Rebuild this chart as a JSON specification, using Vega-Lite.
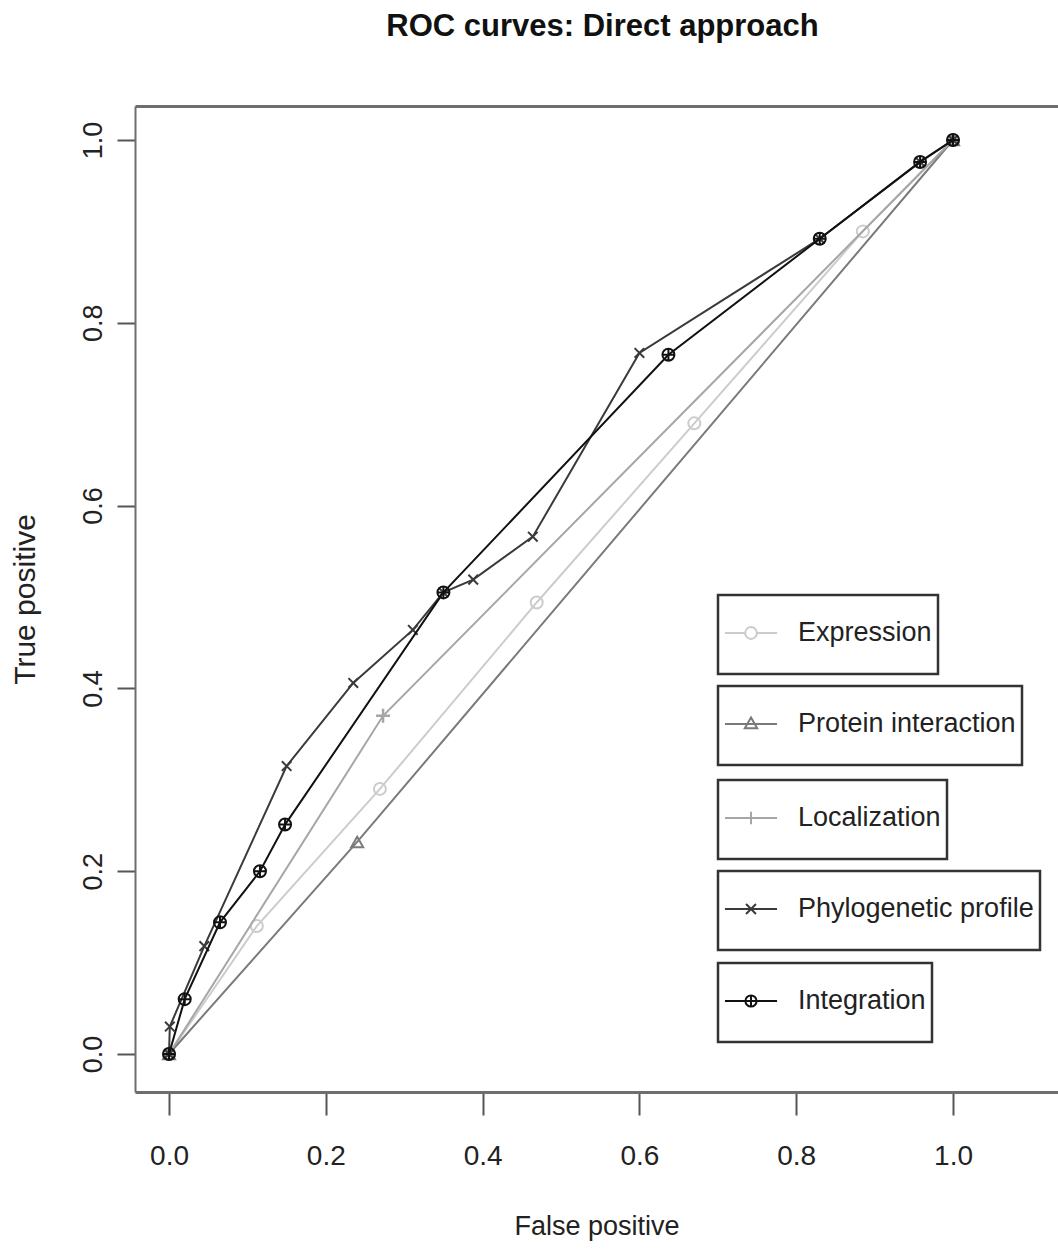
{
  "$schema": "https://vega.github.io/schema/vega-lite/v6.json",
  "autosize": "none",
  "width": 923,
  "height": 986,
  "padding": {"left": 135, "top": 106, "right": 0, "bottom": 157},
  "background": "white",
  "title": {"text": "ROC curves: Direct approach", "font": "Liberation Sans", "fontSize": 31, "fontWeight": "bold", "color": "#111111", "anchor": "middle", "offset": 63, "dx": 6},
  "config": {
    "view": {"stroke": null},
    "legend": {"orient": "none", "padding": 6, "strokeColor": "#333333", "fillColor": "white", "labelFont": "Liberation Sans", "labelFontSize": 27, "labelColor": "#222222", "labelLimit": 500, "symbolStrokeWidth": 2, "symbolSize": 3844, "symbolOffset": -5, "labelOffset": 15, "symbolFillColor": "transparent"}
  },
  "data": {"values": [
    {"series": "Expression", "fp": 0, "tp": 0},
    {"series": "Expression", "fp": 0.112, "tp": 0.14},
    {"series": "Expression", "fp": 0.269, "tp": 0.29},
    {"series": "Expression", "fp": 0.469, "tp": 0.494},
    {"series": "Expression", "fp": 0.67, "tp": 0.69},
    {"series": "Expression", "fp": 0.885, "tp": 0.9},
    {"series": "Expression", "fp": 1, "tp": 1},
    {"series": "Protein interaction", "fp": 0, "tp": 0},
    {"series": "Protein interaction", "fp": 0.24, "tp": 0.232},
    {"series": "Protein interaction", "fp": 1, "tp": 1},
    {"series": "Localization", "fp": 0, "tp": 0},
    {"series": "Localization", "fp": 0.273, "tp": 0.37},
    {"series": "Localization", "fp": 1, "tp": 1},
    {"series": "Phylogenetic profile", "fp": 0, "tp": 0},
    {"series": "Phylogenetic profile", "fp": 0.001, "tp": 0.03},
    {"series": "Phylogenetic profile", "fp": 0.045, "tp": 0.118},
    {"series": "Phylogenetic profile", "fp": 0.15, "tp": 0.315},
    {"series": "Phylogenetic profile", "fp": 0.235, "tp": 0.406},
    {"series": "Phylogenetic profile", "fp": 0.311, "tp": 0.464},
    {"series": "Phylogenetic profile", "fp": 0.35, "tp": 0.505},
    {"series": "Phylogenetic profile", "fp": 0.388, "tp": 0.519},
    {"series": "Phylogenetic profile", "fp": 0.464, "tp": 0.566},
    {"series": "Phylogenetic profile", "fp": 0.6, "tp": 0.767},
    {"series": "Phylogenetic profile", "fp": 0.83, "tp": 0.892},
    {"series": "Phylogenetic profile", "fp": 0.958, "tp": 0.976},
    {"series": "Phylogenetic profile", "fp": 1, "tp": 1},
    {"series": "Integration", "fp": 0, "tp": 0},
    {"series": "Integration", "fp": 0.02, "tp": 0.06},
    {"series": "Integration", "fp": 0.065, "tp": 0.144},
    {"series": "Integration", "fp": 0.116, "tp": 0.2},
    {"series": "Integration", "fp": 0.148, "tp": 0.251},
    {"series": "Integration", "fp": 0.35, "tp": 0.505},
    {"series": "Integration", "fp": 0.637, "tp": 0.765},
    {"series": "Integration", "fp": 0.83, "tp": 0.892},
    {"series": "Integration", "fp": 0.958, "tp": 0.976},
    {"series": "Integration", "fp": 1, "tp": 1}
  ]},
  "encoding": {
    "y": {"field": "tp", "type": "quantitative", "scale": {"domain": [-0.0416, 1.0372], "nice": false, "zero": false},
      "axis": {"orient": "left", "values": [0, 0.2, 0.4, 0.6, 0.8, 1], "format": ".1f", "grid": false, "domainColor": "#6e6e6e", "domainWidth": 2, "tickColor": "#555555", "tickWidth": 2, "tickSize": 18, "labelAngle": 270, "labelAlign": "center", "labelBaseline": "bottom", "labelPadding": 10, "labelFont": "Liberation Sans", "labelFontSize": 27, "labelColor": "#222222", "title": "True positive", "titleFont": "Liberation Sans", "titleFontSize": 30, "titleFontWeight": "normal", "titleColor": "#222222", "titlePadding": 39}},
    "x": {"field": "fp", "type": "quantitative", "scale": {"domain": [-0.0434, 1.1339], "nice": false, "zero": false}, "axis": null}
  },
  "layer": [
    {"mark": {"type": "point", "opacity": 0},
     "encoding": {"x": {"field": "fp", "type": "quantitative", "scale": {"domain": [-0.0434, 1.1339], "nice": false, "zero": false},
       "axis": {"orient": "bottom", "values": [0, 0.2, 0.4, 0.6, 0.8, 1], "format": ".1f", "grid": false, "domainColor": "#6e6e6e", "domainWidth": 3, "tickColor": "#555555", "tickWidth": 2, "tickSize": 23, "labelPadding": 27, "labelFont": "Liberation Sans", "labelFontSize": 28, "labelColor": "#222222", "title": "False positive", "titleFont": "Liberation Sans", "titleFontSize": 27, "titleFontWeight": "normal", "titleColor": "#222222", "titlePadding": 43}}}},
    {"mark": {"type": "point", "opacity": 0},
     "encoding": {"x": {"field": "fp", "type": "quantitative", "scale": {"domain": [-0.0434, 1.1339], "nice": false, "zero": false},
       "axis": {"orient": "top", "labels": false, "ticks": false, "title": null, "grid": false, "domainColor": "#6e6e6e", "domainWidth": 3}}}},
    {"transform": [{"filter": "datum.series === 'Expression'"}],
     "layer": [
       {"mark": {"type": "line", "strokeWidth": 2},
        "encoding": {"color": {"field": "series", "type": "nominal", "scale": {"range": ["#cccccc"]},
          "legend": {"title": null, "legendX": 583, "legendY": 489, "symbolStrokeColor": "#cccccc", "symbolType": "M0,-1M0,1M-0.84,0L-0.19,0M0.19,0L0.84,0M-0.19,0A0.19,0.19 0 1,1 0.19,0A0.19,0.19 0 1,1 -0.19,0", "encode": {"legend": {"update": {"strokeWidth": {"value": 2.5}}}}}}}},
       {"mark": {"type": "point", "shape": "circle", "size": 144, "strokeWidth": 2, "filled": false, "opacity": 1},
        "encoding": {"color": {"field": "series", "type": "nominal", "legend": null}}}
     ]},
    {"transform": [{"filter": "datum.series === 'Protein interaction'"}],
     "layer": [
       {"mark": {"type": "line", "strokeWidth": 2},
        "encoding": {"color": {"field": "series", "type": "nominal", "scale": {"range": ["#7a7a7a"]},
          "legend": {"title": null, "legendX": 583, "legendY": 580, "symbolStrokeColor": "#7a7a7a", "symbolType": "M0,-1M0,1M-0.84,0L0.84,0M0,-0.21L0.2,0.14L-0.2,0.14Z", "encode": {"legend": {"update": {"strokeWidth": {"value": 2.5}}}}}}}},
       {"mark": {"type": "point", "shape": "triangle-up", "size": 144, "strokeWidth": 2, "filled": false, "opacity": 1},
        "encoding": {"color": {"field": "series", "type": "nominal", "legend": null}}}
     ]},
    {"transform": [{"filter": "datum.series === 'Localization'"}],
     "layer": [
       {"mark": {"type": "line", "strokeWidth": 2},
        "encoding": {"color": {"field": "series", "type": "nominal", "scale": {"range": ["#a6a6a6"]},
          "legend": {"title": null, "legendX": 583, "legendY": 674, "symbolStrokeColor": "#a6a6a6", "symbolType": "M0,-1M0,1M-0.84,0L0.84,0M0,-0.2L0,0.2", "encode": {"legend": {"update": {"strokeWidth": {"value": 2.5}}}}}}}},
       {"mark": {"type": "point", "shape": "M-1,0L1,0M0,-1L0,1", "size": 196, "strokeWidth": 2.5, "filled": false, "opacity": 1},
        "encoding": {"color": {"field": "series", "type": "nominal", "legend": null}}}
     ]},
    {"transform": [{"filter": "datum.series === 'Phylogenetic profile'"}],
     "layer": [
       {"mark": {"type": "line", "strokeWidth": 2},
        "encoding": {"color": {"field": "series", "type": "nominal", "scale": {"range": ["#3a3a3a"]},
          "legend": {"title": null, "legendX": 583, "legendY": 765, "symbolStrokeColor": "#1a1a1a", "symbolType": "M0,-1M0,1M-0.84,0L0.84,0M-0.16,-0.16L0.16,0.16M-0.16,0.16L0.16,-0.16", "encode": {"legend": {"update": {"strokeWidth": {"value": 2.5}}}}}}}},
       {"mark": {"type": "point", "shape": "M-0.8,-0.8L0.8,0.8M-0.8,0.8L0.8,-0.8", "size": 144, "strokeWidth": 2, "filled": false, "opacity": 1},
        "encoding": {"color": {"field": "series", "type": "nominal", "legend": null}}}
     ]},
    {"transform": [{"filter": "datum.series === 'Integration'"}],
     "layer": [
       {"mark": {"type": "line", "strokeWidth": 2},
        "encoding": {"color": {"field": "series", "type": "nominal", "scale": {"range": ["#111111"]},
          "legend": {"title": null, "legendX": 583, "legendY": 857, "symbolStrokeColor": "#444444", "symbolType": "M0,-1M0,1M-0.84,0L0.84,0M-0.18,0A0.18,0.18 0 1,1 0.18,0A0.18,0.18 0 1,1 -0.18,0M0,-0.18L0,0.18", "encode": {"legend": {"update": {"strokeWidth": {"value": 2.5}}}}}}}},
       {"mark": {"type": "point", "shape": "M-1,0A1,1 0 1,1 1,0A1,1 0 1,1 -1,0M0,-1L0,1M-1,0L1,0", "size": 144, "strokeWidth": 2, "filled": false, "opacity": 1},
        "encoding": {"color": {"field": "series", "type": "nominal", "legend": null}}}
     ]}
  ],
  "resolve": {"scale": {"color": "independent"}, "axis": {"x": "independent"}}
}
